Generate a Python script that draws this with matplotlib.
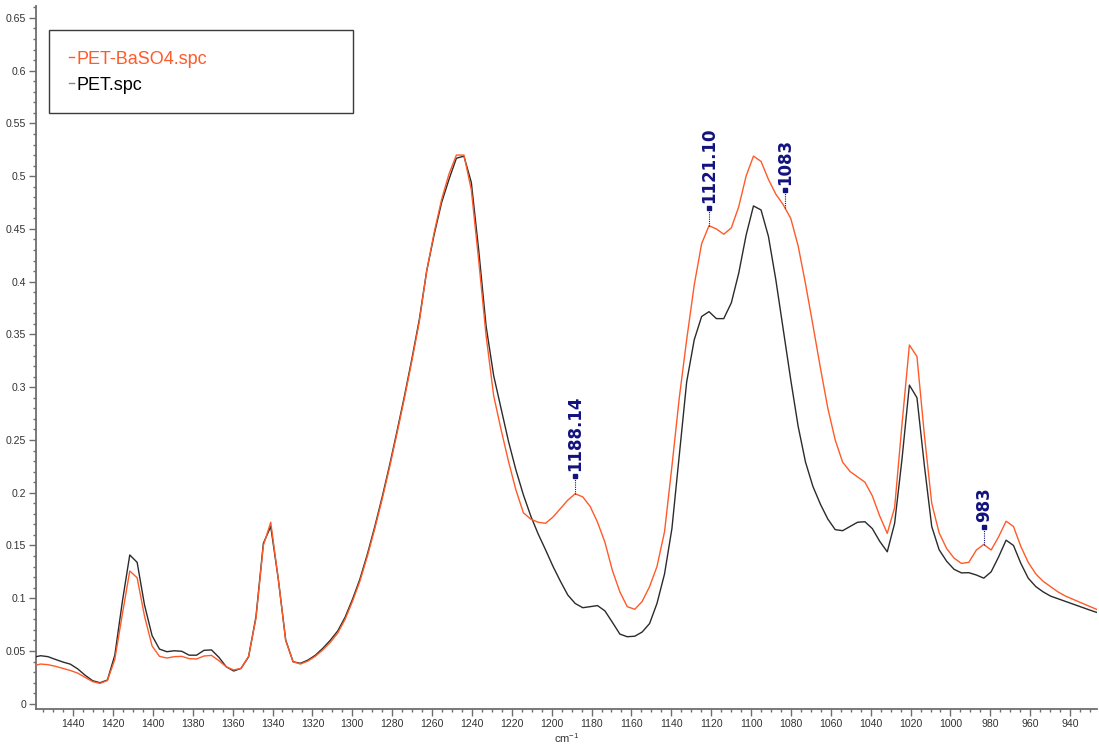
import numpy as np
import matplotlib
matplotlib.use("Agg")
import matplotlib.pyplot as plt
from matplotlib import font_manager
from matplotlib.lines import Line2D
from matplotlib.patches import Rectangle
from matplotlib.ticker import MultipleLocator, FuncFormatter

# ---- spectra (absorbance vs wavenumber, cm^-1) ----
wavenumber = [
    1460.0, 1456.3, 1452.6, 1448.9, 1445.1, 1441.4, 1437.7, 1434.0, 1430.2, 1426.5,
    1422.8, 1419.1, 1415.3, 1411.6, 1407.9, 1404.2, 1400.4, 1396.7, 1393.0, 1389.3,
    1385.5, 1381.8, 1378.1, 1374.4, 1370.6, 1366.9, 1363.2, 1359.5, 1355.8, 1352.0,
    1348.3, 1344.6, 1340.9, 1337.1, 1333.4, 1329.7, 1326.0, 1322.2, 1318.5, 1314.8,
    1311.1, 1307.3, 1303.6, 1299.9, 1296.2, 1292.4, 1288.7, 1285.0, 1281.3, 1277.6,
    1273.8, 1270.1, 1266.4, 1262.7, 1258.9, 1255.2, 1251.5, 1247.8, 1244.0, 1240.3,
    1236.6, 1232.9, 1229.1, 1225.4, 1221.7, 1218.0, 1214.2, 1210.5, 1206.8, 1203.1,
    1199.3, 1195.6, 1191.9, 1188.2, 1184.4, 1180.7, 1177.0, 1173.3, 1169.5, 1165.8,
    1162.1, 1158.3, 1154.6, 1150.9, 1147.2, 1143.4, 1139.7, 1136.0, 1132.3, 1128.5,
    1124.8, 1121.1, 1117.4, 1113.7, 1109.9, 1106.2, 1102.5, 1098.8, 1095.0, 1091.3,
    1087.6, 1083.9, 1080.1, 1076.4, 1072.7, 1069.0, 1065.2, 1061.5, 1057.8, 1054.1,
    1050.3, 1046.6, 1042.9, 1039.2, 1035.5, 1031.7, 1028.0, 1024.3, 1020.6, 1016.8,
    1013.1, 1009.4, 1005.7, 1001.9, 998.2, 994.5, 990.8, 987.0, 983.3, 979.6,
    975.9, 972.1, 968.4, 964.7, 961.0, 957.2, 953.5, 949.8, 946.1, 942.3,
    938.6, 934.9, 931.2, 927.4, 923.7,
]

pet_baso4 = [
    0.036, 0.0376, 0.037, 0.0355, 0.0335, 0.0315, 0.029, 0.025, 0.0209, 0.0193,
    0.022, 0.042, 0.085, 0.1258, 0.1194, 0.083, 0.0547, 0.0449, 0.0433, 0.0446,
    0.0449, 0.0427, 0.0424, 0.0452, 0.0458, 0.0408, 0.035, 0.032, 0.0335, 0.045,
    0.081, 0.150, 0.172, 0.118, 0.060, 0.0398, 0.0376, 0.0405, 0.045, 0.051,
    0.058, 0.067, 0.080, 0.097, 0.116, 0.140, 0.166, 0.194, 0.224, 0.256,
    0.290, 0.325, 0.362, 0.410, 0.447, 0.478, 0.502, 0.520, 0.520, 0.487,
    0.420, 0.349, 0.292, 0.260, 0.230, 0.203, 0.181, 0.175, 0.172, 0.171,
    0.177, 0.185, 0.193, 0.199, 0.196, 0.187, 0.172, 0.153, 0.126, 0.106,
    0.092, 0.0895, 0.097, 0.111, 0.130, 0.163, 0.225, 0.290, 0.345, 0.397,
    0.436, 0.453, 0.450, 0.445, 0.451, 0.471, 0.500, 0.519, 0.514, 0.497,
    0.483, 0.473, 0.460, 0.434, 0.398, 0.359, 0.318, 0.280, 0.250, 0.229,
    0.220, 0.215, 0.210, 0.197, 0.178, 0.1615, 0.186, 0.265, 0.340, 0.329,
    0.255, 0.190, 0.162, 0.147, 0.138, 0.133, 0.134, 0.1457, 0.151, 0.1457,
    0.158, 0.173, 0.168, 0.149, 0.134, 0.123, 0.116, 0.111, 0.106, 0.102,
    0.099, 0.096, 0.093, 0.090, 0.087,
]

pet = [
    0.044, 0.0455, 0.0446, 0.042, 0.0395, 0.0375, 0.033, 0.027, 0.0218, 0.0199,
    0.0225, 0.046, 0.097, 0.141, 0.134, 0.0936, 0.0645, 0.0518, 0.0493, 0.0502,
    0.0497, 0.046, 0.046, 0.0506, 0.051, 0.044, 0.035, 0.031, 0.0335, 0.0445,
    0.0825, 0.152, 0.168, 0.118, 0.0604, 0.0398, 0.0383, 0.0414, 0.046, 0.0525,
    0.060, 0.069, 0.082, 0.099, 0.118, 0.142, 0.168, 0.196, 0.226, 0.258,
    0.292, 0.327, 0.364, 0.410, 0.445, 0.475, 0.497, 0.517, 0.519, 0.494,
    0.430, 0.358, 0.311, 0.280, 0.249, 0.222, 0.198, 0.178, 0.161, 0.146,
    0.130, 0.116, 0.103, 0.095, 0.091, 0.092, 0.093, 0.088, 0.077, 0.066,
    0.0635, 0.064, 0.068, 0.076, 0.095, 0.123, 0.166, 0.235, 0.305, 0.345,
    0.367, 0.3716, 0.365, 0.365, 0.380, 0.408, 0.444, 0.4718, 0.468, 0.443,
    0.402, 0.355, 0.307, 0.263, 0.229, 0.206, 0.189, 0.175, 0.165, 0.164,
    0.168, 0.172, 0.1725, 0.166, 0.154, 0.144, 0.171, 0.232, 0.302, 0.290,
    0.226, 0.168, 0.146, 0.135, 0.1274, 0.124, 0.1242, 0.122, 0.119, 0.125,
    0.139, 0.155, 0.150, 0.133, 0.119, 0.111, 0.106, 0.102, 0.0995, 0.097,
    0.0945, 0.092, 0.0895, 0.087, 0.085,
]

series_names = ["PET-BaSO4.spc", "PET.spc"]
peak_positions = [1188.14, 1121.10, 1083, 983]
peak_labels = ["1188.14", "1121.10", "1083", "983"]

# ---- styling ----
RED = "#ff5a28"
DARK = "#2b2b2b"
NAVY = "#12127f"
AXIS_GREY = "#6e6e6e"

installed = {f.name for f in font_manager.fontManager.ttflist}
sans = "Liberation Sans" if "Liberation Sans" in installed else "DejaVu Sans"
narrow = "Liberation Sans Narrow" if "Liberation Sans Narrow" in installed else sans
plt.rcParams["font.family"] = [sans, "DejaVu Sans"]
plt.rcParams["mathtext.fontset"] = "custom"
plt.rcParams["mathtext.rm"] = sans

fig = plt.figure(figsize=(10.99, 7.49), dpi=100)
ax = fig.add_axes([0.0328, 0.0534, 0.9654, 0.9386])

wn = np.array(wavenumber)
ax.plot(wn, pet, color=DARK, lw=1.0, zorder=3)
ax.plot(wn, pet_baso4, color=RED, lw=1.0, zorder=4)

ax.set_xlim(1458.6, 926.5)
ax.set_ylim(-0.005, 0.6613)

for side in ("top", "right"):
    ax.spines[side].set_visible(False)
for side in ("left", "bottom"):
    ax.spines[side].set_color(AXIS_GREY)
    ax.spines[side].set_linewidth(1.3)

ax.xaxis.set_major_locator(MultipleLocator(20))
ax.xaxis.set_minor_locator(MultipleLocator(5))
ax.yaxis.set_major_locator(MultipleLocator(0.05))
ax.yaxis.set_minor_locator(MultipleLocator(0.01))
ax.yaxis.set_major_formatter(FuncFormatter(lambda v, _: "%g" % round(v, 2)))
ax.xaxis.set_major_formatter(FuncFormatter(lambda v, _: "%d" % v))

ax.tick_params(axis="both", which="major", length=5, width=1.0, color=AXIS_GREY,
               labelsize=7.6, labelcolor="#333333", direction="out", pad=2)
ax.tick_params(axis="both", which="minor", length=2.5, width=1.0, color=AXIS_GREY,
               direction="out")

ax.set_xlabel("cm$^{-1}$", fontsize=8, color="#333333", labelpad=2)

# ---- peak labels ----
order = np.argsort(wn)
for pos, lab in zip(peak_positions, peak_labels):
    yv = np.interp(pos, wn[order], np.array(pet_baso4)[order])
    top = yv + 0.017
    ax.plot([pos, pos], [yv, top], ls=(0, (1, 1)), color=NAVY, lw=0.8, zorder=5)
    ax.plot(pos, top, marker="s", ms=2.2, color=NAVY, zorder=5)
    ax.annotate(lab, (pos, top), xytext=(0, 3.5), textcoords="offset points",
                rotation=90, rotation_mode="anchor", ha="left", va="center",
                fontsize=12, fontweight="bold", color=NAVY, family="DejaVu Sans")

# ---- legend box ----
W, H = 1099.0, 749.0
fig.add_artist(Rectangle((49 / W, 1 - 112.7 / H), (353 - 49) / W, (112.7 - 30) / H,
                         transform=fig.transFigure, fill=False,
                         edgecolor="#3a3a3a", lw=1.0))
for name, col, handle_col, base in zip(series_names, [RED, "black"], [RED, "#888888"],
                                       [64.3, 90.0]):
    ymid = 1 - (base - 7) / H
    fig.add_artist(Line2D([69 / W, 73.5 / W], [ymid, ymid], transform=fig.transFigure,
                          color=handle_col, lw=1.0))
    fig.text(76 / W, 1 - base / H, name, color=col, fontsize=14.4 if narrow != sans else 13,
             family=narrow, va="baseline", ha="left")

fig.savefig("out.png", dpi=100)
